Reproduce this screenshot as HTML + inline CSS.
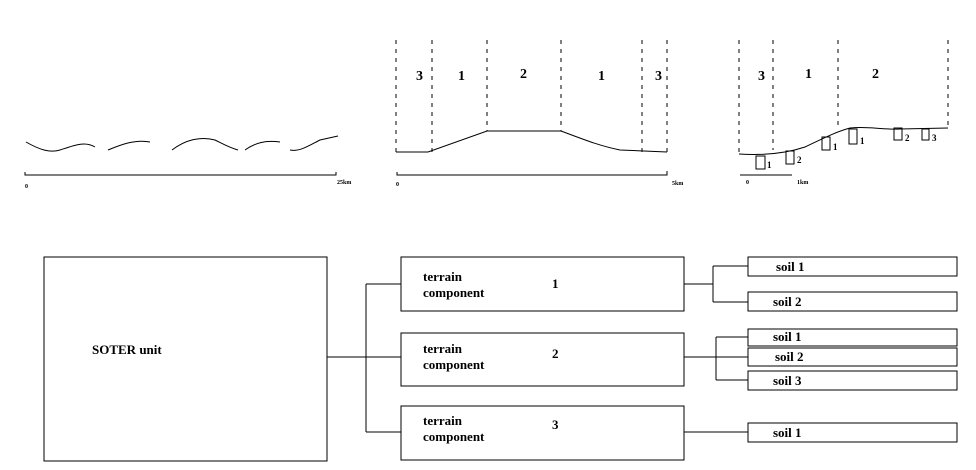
<!DOCTYPE html>
<html><head><style>
body{margin:0;background:#fff;width:976px;height:470px;overflow:hidden}
svg{display:block}
text{font-family:"Liberation Serif",serif;font-weight:bold;fill:#000}
</style></head><body>
<svg width="976" height="470" viewBox="0 0 976 470">
<g fill="none" stroke="#000" stroke-width="1">
<!-- profile 1 -->
<path d="M26,142 C40,150 50,153 60,150 C75,145 85,141 95,147 M108,150 C120,145 135,139 150,142 M172,150 C185,140 200,136 215,140 C225,145 230,148 238,150 M245,150 C255,143 265,140 280,142 M290,150 C300,152 310,145 320,140 L338,136"/>
<path d="M25,172 V175 H336 V172"/>
<!-- profile 2 -->
<g stroke-dasharray="4,5">
<path d="M396,40 V152 M432,40 V152 M487,40 V131 M561,40 V131 M642,40 V152 M667,40 V152"/>
</g>
<path d="M396,152 L428,152 L487,131 L561,131 C585,140 600,146 620,150 L667,152"/>
<path d="M397,172 V175 H667 V171"/>
<!-- profile 3 -->
<g stroke-dasharray="4,5">
<path d="M739,40 V154 M773,40 V150 M838,40 V130 M948,40 V128"/>
</g>
<path d="M739,154 C770,156 790,152 805,147 C820,140 835,132 850,128 C870,126 880,130 900,129 L948,128"/>
<path d="M740,175 H792"/>
<rect x="756" y="156" width="9" height="13"/><rect x="786" y="151" width="8" height="13"/>
<rect x="822" y="137" width="8" height="13"/><rect x="849" y="129" width="8" height="15"/>
<rect x="894" y="128" width="8" height="12"/><rect x="922" y="129" width="7" height="11"/>
<!-- boxes -->
<rect x="44" y="257" width="283" height="204"/>
<rect x="401" y="257" width="283" height="54"/>
<rect x="401" y="333" width="283" height="53"/>
<rect x="401" y="406" width="283" height="54"/>
<rect x="748" y="257" width="209" height="19"/>
<rect x="748" y="292" width="209" height="19"/>
<rect x="748" y="329" width="209" height="17"/>
<rect x="748" y="348" width="209" height="18"/>
<rect x="748" y="371" width="209" height="19"/>
<rect x="748" y="423" width="209" height="19"/>
<!-- connectors -->
<path d="M327,357 H401 M366,284 V432 M366,284 H401 M366,432 H401"/>
<path d="M684,284 H713 M713,266 V302 M713,266 H748 M713,302 H748"/>
<path d="M684,357 H748 M716,337 V380 M716,337 H748 M716,380 H748"/>
<path d="M684,432 H748"/>
</g>
<g font-size="14">
<text x="416" y="80">3</text><text x="458" y="80">1</text><text x="520" y="78">2</text><text x="598" y="80">1</text><text x="655" y="80">3</text>
<text x="758" y="80">3</text><text x="805" y="78">1</text><text x="872" y="78">2</text>
</g>
<g font-size="9">
<text x="767" y="168">1</text><text x="797" y="163">2</text><text x="833" y="150">1</text><text x="860" y="144">1</text><text x="905" y="141">2</text><text x="932" y="141">3</text>
</g>
<g font-size="6">
<text x="25" y="188">0</text><text x="337" y="184">25km</text>
<text x="396" y="186">0</text><text x="672" y="185">5km</text>
<text x="746" y="184">0</text><text x="797" y="184">1km</text>
</g>
<g font-size="13">
<text x="92" y="354">SOTER unit</text>
<text x="423" y="281">terrain</text><text x="423" y="297">component</text><text x="552" y="288">1</text>
<text x="423" y="353">terrain</text><text x="423" y="369">component</text><text x="552" y="358">2</text>
<text x="423" y="425">terrain</text><text x="423" y="441">component</text><text x="552" y="429">3</text>
<text x="776" y="271">soil 1</text><text x="773" y="306">soil 2</text>
<text x="773" y="341">soil 1</text><text x="775" y="361">soil 2</text><text x="773" y="385">soil 3</text>
<text x="773" y="437">soil 1</text>
</g>
</svg>
</body></html>
